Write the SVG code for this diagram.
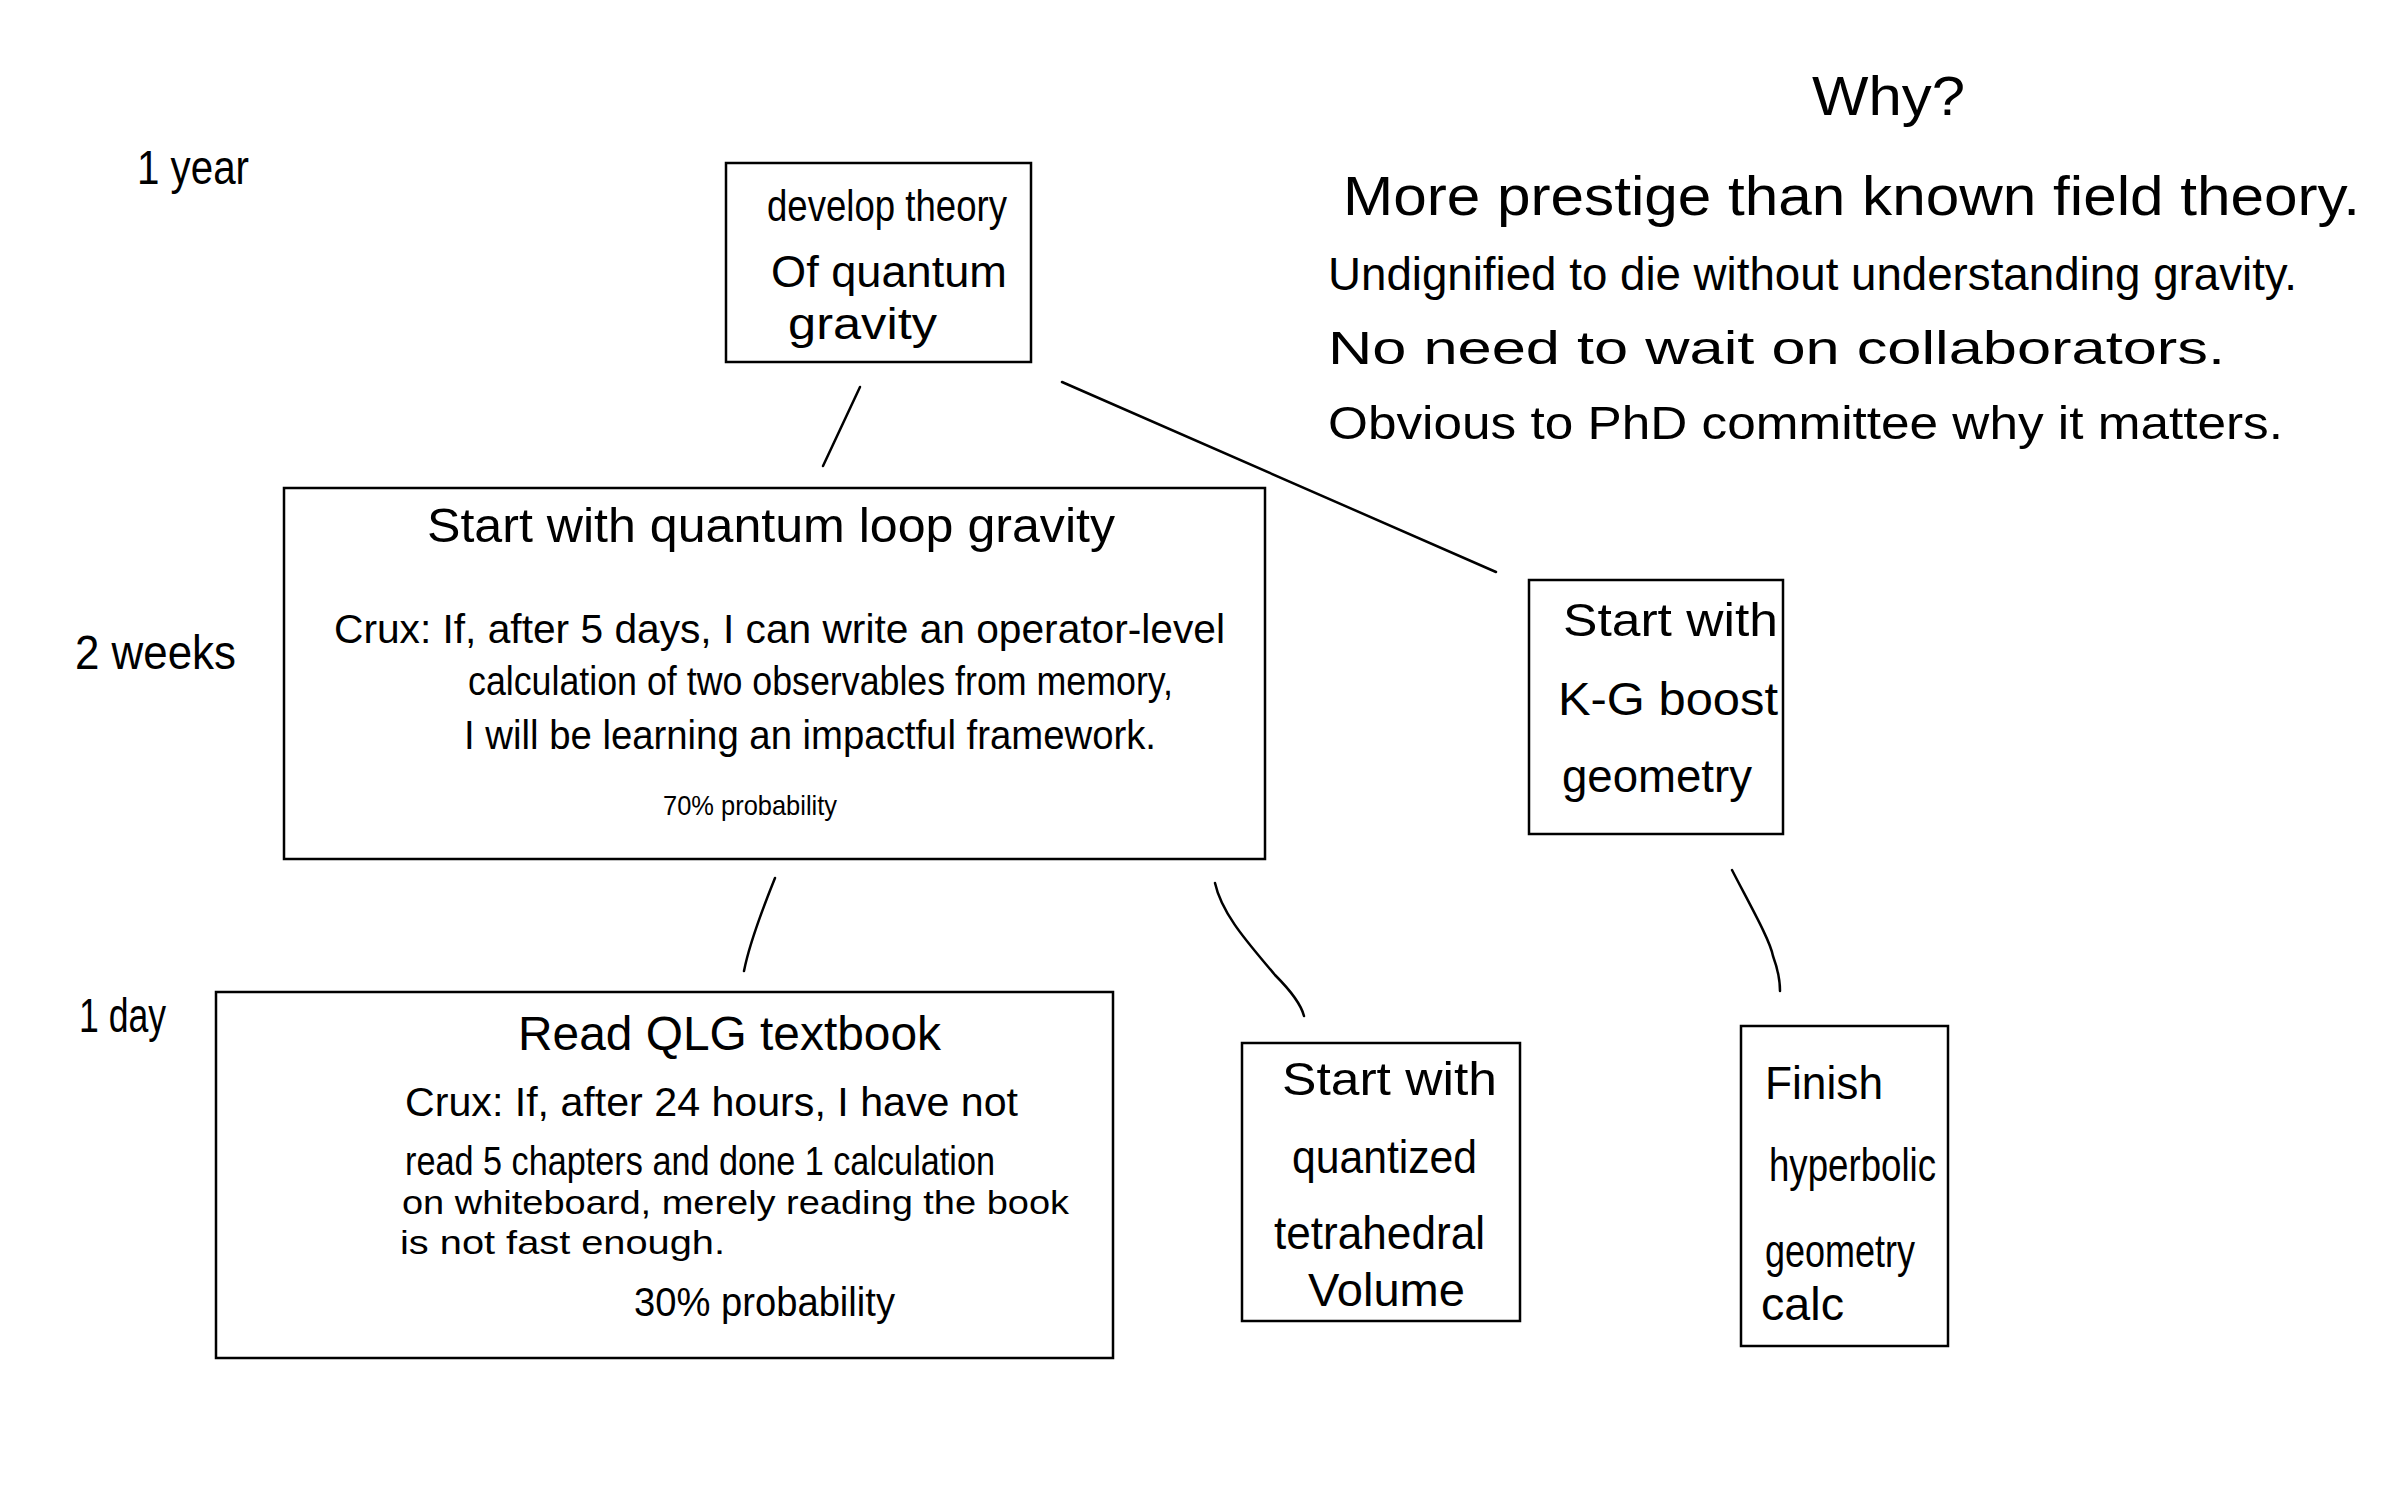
<svg xmlns="http://www.w3.org/2000/svg" width="2386" height="1491" viewBox="0 0 2386 1491">
<style>
.box{fill:#fff;stroke:#000;stroke-width:2.5}
.ln{fill:none;stroke:#000;stroke-width:2.5;stroke-linecap:round}
text{font-family:"Liberation Sans","DejaVu Sans",sans-serif;fill:#000}
.lbl{font-size:48px}
.n{font-size:44px}
.c{font-size:40px}
.c2{font-size:34px}
.s{font-size:28px}
.why{font-size:56px}
.r{font-size:46px}
</style>
<rect width="2386" height="1491" fill="#fff"/>
<g id="connectors">
<path class="ln" d="M860,387 L823,466"/>
<path class="ln" d="M1062,382 L1496,572"/>
<path class="ln" d="M775,878 Q750,940 744,971"/>
<path class="ln" d="M1215,883 C1222,915 1250,945 1275,975 Q1300,1000 1304,1016"/>
<path class="ln" d="M1732,870 C1750,905 1770,940 1773,956 Q1780,975 1780,991"/>
</g>
<g id="time-labels">
<text class="lbl" x="137" y="184" textLength="112" lengthAdjust="spacingAndGlyphs">1 year</text>
<text class="lbl" x="75" y="669" textLength="161" lengthAdjust="spacingAndGlyphs">2 weeks</text>
<text class="lbl" x="79" y="1032" textLength="87" lengthAdjust="spacingAndGlyphs">1 day</text>
</g>
<g id="why">
<text class="why" x="1812" y="115" textLength="153" lengthAdjust="spacingAndGlyphs">Why?</text>
<text class="why" x="1343" y="215" textLength="1017" lengthAdjust="spacingAndGlyphs">More prestige than known field theory.</text>
<text class="r" x="1328" y="290" textLength="969" lengthAdjust="spacingAndGlyphs">Undignified to die without understanding gravity.</text>
<text class="r" x="1328" y="364" textLength="897" lengthAdjust="spacingAndGlyphs">No need to wait on collaborators.</text>
<text class="r" x="1328" y="439" textLength="955" lengthAdjust="spacingAndGlyphs">Obvious to PhD committee why it matters.</text>
</g>
<g id="develop">
<rect class="box" x="726" y="163" width="305" height="199"/>
<text class="n" x="767" y="221" textLength="240" lengthAdjust="spacingAndGlyphs">develop theory</text>
<text class="n" x="771" y="287" textLength="236" lengthAdjust="spacingAndGlyphs">Of quantum</text>
<text class="n" x="788" y="339" textLength="149" lengthAdjust="spacingAndGlyphs">gravity</text>
</g>
<g id="qlg">
<rect class="box" x="284" y="488" width="981" height="371"/>
<text class="lbl" x="427" y="542" textLength="688" lengthAdjust="spacingAndGlyphs">Start with quantum loop gravity</text>
<text class="c" x="334" y="643" textLength="891" lengthAdjust="spacingAndGlyphs">Crux: If, after 5 days, I can write an operator-level</text>
<text class="c" x="468" y="695" textLength="705" lengthAdjust="spacingAndGlyphs">calculation of two observables from memory,</text>
<text class="c" x="464" y="749" textLength="692" lengthAdjust="spacingAndGlyphs">I will be learning an impactful framework.</text>
<text class="s" x="663" y="815" textLength="174" lengthAdjust="spacingAndGlyphs">70% probability</text>
</g>
<g id="kg">
<rect class="box" x="1529" y="580" width="254" height="254"/>
<text class="r" x="1563" y="636" textLength="215" lengthAdjust="spacingAndGlyphs">Start with</text>
<text class="r" x="1558" y="715" textLength="220" lengthAdjust="spacingAndGlyphs">K-G boost</text>
<text class="r" x="1562" y="792" textLength="190" lengthAdjust="spacingAndGlyphs">geometry</text>
</g>
<g id="read">
<rect class="box" x="216" y="992" width="897" height="366"/>
<text class="lbl" x="518" y="1050" textLength="423" lengthAdjust="spacingAndGlyphs">Read QLG textbook</text>
<text class="c" x="405" y="1116" textLength="613" lengthAdjust="spacingAndGlyphs">Crux: If, after 24 hours, I have not</text>
<text class="c" x="405" y="1175" textLength="590" lengthAdjust="spacingAndGlyphs">read 5 chapters and done 1 calculation</text>
<text class="c2" x="402" y="1214" textLength="667" lengthAdjust="spacingAndGlyphs">on whiteboard, merely reading the book</text>
<text class="c2" x="400" y="1254" textLength="325" lengthAdjust="spacingAndGlyphs">is not fast enough.</text>
<text class="c" x="634" y="1316" textLength="261" lengthAdjust="spacingAndGlyphs">30% probability</text>
</g>
<g id="tetra">
<rect class="box" x="1242" y="1043" width="278" height="278"/>
<text class="r" x="1282" y="1095" textLength="215" lengthAdjust="spacingAndGlyphs">Start with</text>
<text class="r" x="1292" y="1173" textLength="185" lengthAdjust="spacingAndGlyphs">quantized</text>
<text class="r" x="1274" y="1249" textLength="211" lengthAdjust="spacingAndGlyphs">tetrahedral</text>
<text class="r" x="1308" y="1306" textLength="157" lengthAdjust="spacingAndGlyphs">Volume</text>
</g>
<g id="finish">
<rect class="box" x="1741" y="1026" width="207" height="320"/>
<text class="r" x="1765" y="1099" textLength="118" lengthAdjust="spacingAndGlyphs">Finish</text>
<text class="r" x="1769" y="1181" textLength="167" lengthAdjust="spacingAndGlyphs">hyperbolic</text>
<text class="r" x="1765" y="1267" textLength="150" lengthAdjust="spacingAndGlyphs">geometry</text>
<text class="r" x="1761" y="1320" textLength="83" lengthAdjust="spacingAndGlyphs">calc</text>
</g>
</svg>
